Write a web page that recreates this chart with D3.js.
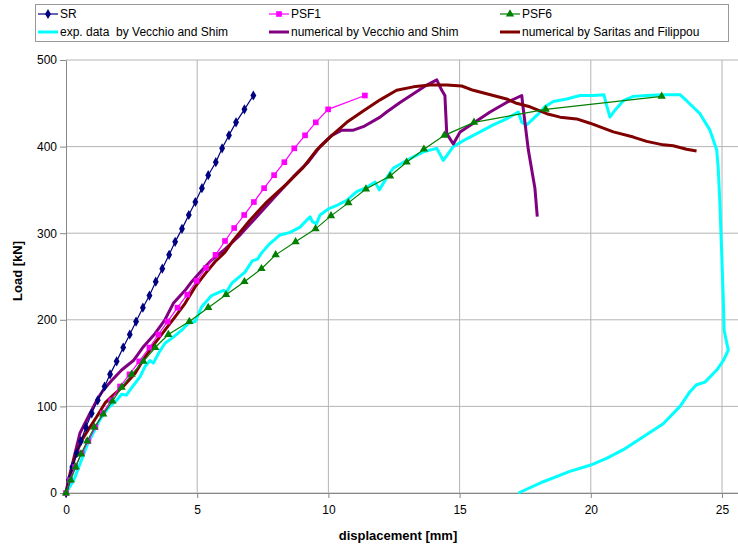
<!DOCTYPE html>
<html>
<head>
<meta charset="utf-8">
<script src="https://cdn.jsdelivr.net/npm/d3@7"></script>
<style>
  body { margin: 0; background: #fff; }
  svg { display: block; font-family: "Liberation Sans", Arial, sans-serif; }
</style>
</head>
<body>
<div id="chart"></div>
<script>
// Load-displacement curves, values: [displacement mm, load kN]
const srData = [
    [0, 0], [0.11, 15], [0.24, 30], [0.41, 46], [0.57, 60], [0.76, 76], [0.98, 92], [1.21, 107],
    [1.47, 123], [1.68, 137], [1.93, 152], [2.18, 168], [2.43, 183], [2.67, 198], [2.93, 214],
    [3.18, 228], [3.42, 244], [3.67, 259], [3.93, 275], [4.16, 290], [4.42, 305], [4.68, 321],
    [4.93, 336], [5.18, 352], [5.42, 367], [5.71, 382], [5.95, 398], [6.21, 413], [6.48, 428],
    [6.80, 443], [7.14, 459]
];

const psf1Data = [
    [0, 0], [0.15, 15], [0.35, 30], [0.6, 46], [0.85, 60], [1.12, 76], [1.4, 92], [1.72, 107],
    [2.06, 123], [2.42, 137], [2.79, 152], [3.18, 168], [3.52, 183], [3.87, 198], [4.25, 214],
    [4.62, 229], [4.98, 245], [5.34, 260], [5.70, 275], [6.06, 291], [6.41, 306], [6.79, 321],
    [7.16, 336], [7.55, 352], [7.93, 367], [8.32, 382], [8.70, 398], [9.11, 413], [9.52, 428],
    [9.99, 443], [11.39, 459]
];

const psf6Data = [
    [0, 0], [0.18, 15], [0.37, 30], [0.57, 45], [0.81, 60], [1.08, 76], [1.42, 91], [1.77, 106],
    [2.12, 122], [2.50, 137], [2.95, 152], [3.4, 168], [3.90, 183], [4.70, 198], [5.42, 214],
    [6.1, 229], [6.80, 244], [7.45, 259], [7.99, 275], [8.75, 290], [9.51, 305], [10.10, 320],
    [10.76, 335], [11.43, 351], [12.35, 366], [12.98, 382], [13.64, 397], [14.42, 413],
    [15.55, 428], [18.28, 443], [22.7, 458]
];

const expData = [
    [0, 0], [0.3, 15], [0.55, 35], [0.8, 55], [1.05, 70], [1.3, 85], [1.6, 98], [1.93, 107],
    [2.12, 114], [2.3, 113], [2.54, 123], [2.82, 134], [3.01, 146], [3.2, 153], [3.33, 150],
    [3.52, 161], [3.77, 173], [4.09, 180], [4.41, 188], [4.66, 196], [4.92, 198], [5.17, 215],
    [5.55, 228], [6.0, 234], [6.12, 232], [6.31, 242], [6.82, 255], [7.1, 268], [7.3, 270],
    [7.45, 277], [7.77, 288], [8.16, 298], [8.54, 301], [8.92, 307], [9.30, 319], [9.40, 313],
    [9.55, 311], [9.68, 321], [10.0, 328], [10.32, 332], [10.70, 338], [11.08, 348], [11.46, 353],
    [11.78, 359], [11.94, 350], [12.16, 361], [12.47, 375], [12.98, 384], [13.62, 394],
    [14.13, 398], [14.38, 384], [14.76, 400], [15.27, 409], [15.78, 417], [16.28, 425],
    [16.79, 432], [17.24, 440], [17.37, 428], [17.56, 425], [17.94, 436], [18.25, 446],
    [18.57, 452], [19.08, 455], [19.59, 459], [20.1, 459], [20.5, 460], [20.6, 448], [20.73, 434],
    [20.92, 442], [21.24, 453], [21.62, 458], [22.13, 459], [22.76, 460], [23.4, 460],
    [23.65, 453], [24.16, 438], [24.54, 419], [24.8, 396], [24.86, 373], [24.92, 334],
    [24.98, 284], [25.05, 223], [25.08, 188], [25.24, 165], [25.05, 153], [24.8, 142],
    [24.35, 128], [24.03, 125], [23.78, 117], [23.4, 100], [22.76, 80], [22.0, 65], [21.24, 50],
    [20.6, 40], [19.97, 32], [19.2, 25], [18.19, 13], [17.24, 0]
];

const vecchioData = [
    [0, 0], [0.09, 15], [0.28, 38], [0.53, 69], [0.85, 88], [1.17, 107], [1.42, 119], [1.74, 130],
    [2.12, 142], [2.57, 153], [2.95, 169], [3.39, 184], [3.77, 200], [4.09, 219], [4.54, 234],
    [4.79, 244], [5.17, 257], [5.55, 269], [6.0, 280], [6.57, 296], [7.27, 319], [7.96, 342],
    [8.66, 365], [9.23, 382], [9.68, 400], [10.13, 413], [10.51, 419], [10.95, 419], [11.33, 423],
    [11.97, 434], [12.22, 440], [12.73, 451], [13.24, 461], [13.75, 471], [14.13, 477],
    [14.32, 465], [14.44, 459], [14.51, 415], [14.76, 403], [15.02, 417], [15.52, 427],
    [16.16, 440], [16.79, 451], [17.37, 459], [17.40, 450], [17.62, 396], [17.87, 352],
    [17.96, 319]
];

const saritasData = [
    [0, 0], [0.15, 19], [0.34, 42], [0.60, 61], [0.85, 73], [1.17, 88], [1.49, 104], [1.80, 113],
    [2.18, 123], [2.63, 138], [3.01, 157], [3.39, 173], [3.77, 188], [4.15, 203], [4.54, 219],
    [4.92, 238], [5.30, 253], [5.68, 267], [6.06, 278], [6.38, 292], [7.01, 315], [7.65, 336],
    [8.41, 357], [9.04, 376], [9.55, 396], [10.06, 411], [10.70, 428], [11.27, 440], [11.97, 454],
    [12.60, 465], [13.24, 469], [13.87, 471], [14.51, 471], [15.08, 470], [15.52, 465],
    [16.03, 461], [16.79, 455], [17.17, 450], [17.68, 446], [18.32, 438], [18.83, 434],
    [19.46, 432], [19.97, 427], [20.86, 417], [21.62, 411], [22.13, 406], [22.76, 402],
    [23.14, 401], [23.65, 397], [24.03, 395]
];

const xTicks = [0, 5, 10, 15, 20, 25];
const yTicks = [0, 100, 200, 300, 400, 500];

const lineSeries = [
    {name: 'exp. data  by Vecchio and Shim', data: expData, color: '#00ffff'},
    {name: 'numerical by Vecchio and Shim', data: vecchioData, color: '#800080'},
    {name: 'numerical by Saritas and Filippou', data: saritasData, color: '#800000'}
];
const markerSeries = [
    {name: 'SR', data: srData, color: '#000080', symbol: d3.symbolDiamond, size: 30},
    {name: 'PSF1', data: psf1Data, color: '#ff00ff', symbol: d3.symbolSquare, size: 32},
    {name: 'PSF6', data: psf6Data, color: '#008000', symbol: d3.symbolTriangle, size: 30}
];

const width = 738, height = 549;
const plot = {left: 66, top: 60, bottom: 493};

const svg = d3.select('#chart').append('svg')
    .attr('width', width)
    .attr('height', height);

svg.append('rect').attr('width', width).attr('height', height).attr('fill', '#fff');

const x = d3.scaleLinear().domain([0, 26]).range([plot.left, plot.left + 26 * 26.24]);
const y = d3.scaleLinear().domain([0, 500]).range([plot.bottom, plot.top]);

// Grid
svg.append('g')
    .selectAll('line.hgrid')
    .data(yTicks)
  .enter().append('line')
    .attr('x1', plot.left).attr('x2', width)
    .attr('y1', d => y(d)).attr('y2', d => y(d))
    .attr('stroke', '#b4b4b4').attr('stroke-width', 1);

svg.append('g')
    .selectAll('line.vgrid')
    .data(xTicks.slice(1))
  .enter().append('line')
    .attr('x1', d => x(d)).attr('x2', d => x(d))
    .attr('y1', plot.top).attr('y2', plot.bottom)
    .attr('stroke', '#b4b4b4').attr('stroke-width', 1);

// Axes
const xAxis = svg.append('g')
    .attr('transform', `translate(0,${plot.bottom})`)
    .call(d3.axisBottom(x).tickValues(xTicks).tickSize(5).tickSizeOuter(0));
const yAxis = svg.append('g')
    .attr('transform', `translate(${plot.left},0)`)
    .call(d3.axisLeft(y).tickValues(yTicks).tickSize(6).tickSizeOuter(0));

[xAxis, yAxis].forEach(a => {
    a.select('.domain').attr('stroke', '#888');
    a.selectAll('.tick line').attr('stroke', '#888');
    a.selectAll('.tick text')
        .attr('fill', '#000')
        .style('font-size', '12px')
        .style('font-family', '"Liberation Sans", Arial, sans-serif');
});
xAxis.select('.domain').attr('d', `M${plot.left},0.5H${width}`);
xAxis.selectAll('.tick text').attr('dy', '1.05em');
yAxis.selectAll('.tick text').attr('x', -9);

// Axis titles
svg.append('text')
    .attr('x', 398).attr('y', 540)
    .attr('text-anchor', 'middle')
    .style('font-size', '13px').style('font-weight', 'bold')
    .text('displacement [mm]');

svg.append('text')
    .attr('transform', 'translate(22,271) rotate(-90)')
    .attr('text-anchor', 'middle')
    .style('font-size', '13px').style('font-weight', 'bold')
    .text('Load [kN]');

const line = d3.line().x(d => x(d[0])).y(d => y(d[1]));

// Thick curves
lineSeries.forEach(s => {
    svg.append('path')
        .datum(s.data)
        .attr('d', line)
        .attr('fill', 'none')
        .attr('stroke', s.color)
        .attr('stroke-width', 3)
        .attr('stroke-linejoin', 'round');
});

// Curves with markers
markerSeries.forEach(s => {
    svg.append('path')
        .datum(s.data)
        .attr('d', line)
        .attr('fill', 'none')
        .attr('stroke', s.color)
        .attr('stroke-width', 1.2);
    svg.append('g')
        .selectAll('path')
        .data(s.data)
      .enter().append('path')
        .attr('transform', d => `translate(${x(d[0])},${y(d[1])})`)
        .attr('d', d3.symbol().type(s.symbol).size(s.size))
        .attr('fill', s.color);
});

// Legend
const legend = svg.append('g');
legend.append('rect')
    .attr('x', 35.5).attr('y', 4.5)
    .attr('width', 693).attr('height', 37)
    .attr('fill', '#fff').attr('stroke', '#999');

const legendCols = [38, 269, 500];
const legendRows = [14, 32];

markerSeries.forEach((s, i) => {
    const lx = legendCols[i], ly = legendRows[0];
    legend.append('line')
        .attr('x1', lx).attr('x2', lx + 20).attr('y1', ly).attr('y2', ly)
        .attr('stroke', s.color).attr('stroke-width', 1.2);
    legend.append('path')
        .attr('transform', `translate(${lx + 10},${ly})`)
        .attr('d', d3.symbol().type(s.symbol).size(s.size))
        .attr('fill', s.color);
    legend.append('text')
        .attr('x', lx + 22).attr('y', ly).attr('dy', '0.35em')
        .style('font-size', '12px')
        .text(s.name);
});

lineSeries.forEach((s, i) => {
    const lx = legendCols[i], ly = legendRows[1];
    legend.append('line')
        .attr('x1', lx).attr('x2', lx + 20).attr('y1', ly).attr('y2', ly)
        .attr('stroke', s.color).attr('stroke-width', 3);
    legend.append('text')
        .attr('x', lx + 22).attr('y', ly).attr('dy', '0.35em')
        .style('font-size', '12px')
        .style('white-space', 'pre')
        .text(s.name);
});
</script>
</body>
</html>
